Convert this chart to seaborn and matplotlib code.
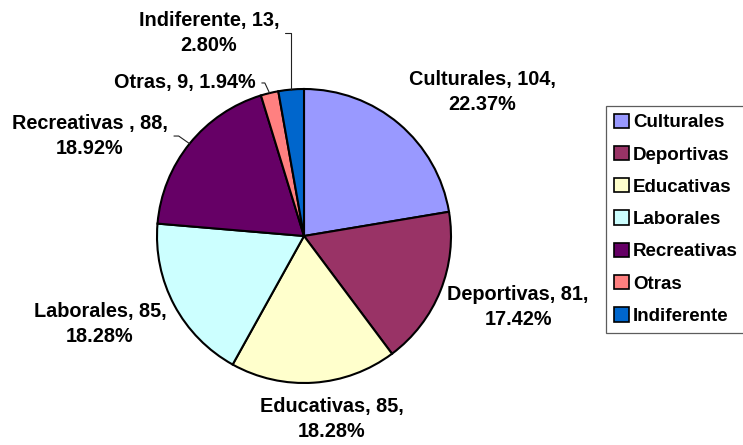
import numpy as np
import pandas as pd
import matplotlib
matplotlib.use("Agg")
import matplotlib.pyplot as plt
import seaborn as sns

# Survey responses: preferred type of activity
categories = ["Culturales", "Deportivas", "Educativas", "Laborales",
              "Recreativas ", "Otras", "Indiferente"]
counts = [104, 81, 85, 85, 88, 9, 13]
colors = ["#9999FF", "#993366", "#FFFFCC", "#CCFFFF",
          "#660066", "#FF8080", "#0066CC"]

# label layout: separator between count and percent, label centre (pie radius = 1)
label_sep = ["\n", "\n", "\n", "\n", "\n", " ", "\n"]
label_pos = [(1.211, 0.980), (1.456, -0.483), (0.190, -1.245), (-1.388, -0.599),
             (-1.456, 0.680), (-0.810, 1.041), (-0.646, 1.381)]
# leader lines: angle of the segment that meets the wedge (None = no leader)
leader_angle = [None, None, None, None, 145, 115, 90]

df = pd.DataFrame({"categoria": categories, "n": counts, "color": colors})
df["pct"] = df["n"] / df["n"].sum() * 100

sns.set_theme(style="white")
plt.rcParams["font.family"] = ["Liberation Sans", "DejaVu Sans"]
plt.rcParams["font.weight"] = "bold"
plt.rcParams["text.color"] = "black"

W, H, DPI = 743, 445, 100
fig = plt.figure(figsize=(W / DPI, H / DPI), dpi=DPI)
ax = fig.add_axes([0, 0, 1, 1])

R_PX, CX, CY = 147, 304, 236

wedges, _ = ax.pie(df["n"], colors=df["color"], startangle=90, counterclock=False,
                   radius=1.0, center=(0, 0),
                   wedgeprops=dict(edgecolor="black", linewidth=1.5))
ax.set_xlim(-CX / R_PX, (W - CX) / R_PX)
ax.set_ylim(-(H - CY) / R_PX, CY / R_PX)
ax.set_aspect("equal")
ax.axis("off")

fs_label = 14.3
fs_legend = 13.5
for w, row, sep, pos, ang in zip(wedges, df.itertuples(), label_sep, label_pos, leader_angle):
    text = f"{row.categoria}, {row.n},{sep}{row.pct:.2f}%"
    mid = np.deg2rad((w.theta1 + w.theta2) / 2)
    edge = (np.cos(mid), np.sin(mid))
    if ang is None:
        ax.text(pos[0], pos[1], text, ha="center", va="center", fontsize=fs_label,
                fontweight="bold", linespacing=1.4, multialignment="center",
                color="black")
    else:
        ax.annotate(text, xy=edge, xytext=pos, ha="center", va="center",
                    fontsize=fs_label, fontweight="bold", linespacing=1.4,
                    multialignment="center", color="black",
                    arrowprops=dict(arrowstyle="-", color="#222222", lw=0.8,
                                    shrinkA=2, shrinkB=0, relpos=(1, 0.5),
                                    connectionstyle=f"angle,angleA=0,angleB={ang},rad=0"))

leg = fig.legend(wedges, [c.strip() for c in categories],
                 loc="upper left", bbox_to_anchor=(606 / W, 1 - 106 / H),
                 borderaxespad=0, frameon=True, fancybox=False, shadow=False,
                 prop=dict(size=fs_legend, weight="bold"),
                 handlelength=0.8, handleheight=0.8, handletextpad=0.25,
                 labelspacing=0.78, borderpad=0.4, labelcolor="black")
leg.get_frame().set_edgecolor("#333333")
leg.get_frame().set_linewidth(0.9)
for h in leg.legend_handles:
    h.set_edgecolor("black")
    h.set_linewidth(1.2)

fig.savefig("out.png", dpi=DPI)
